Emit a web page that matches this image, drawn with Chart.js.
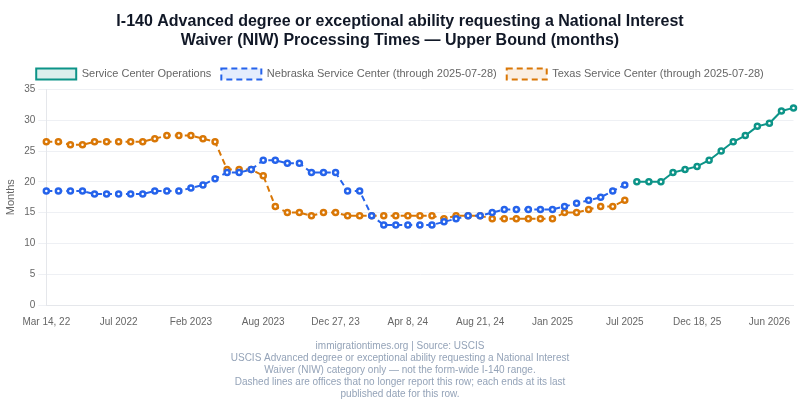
<!DOCTYPE html>
<html>
<head>
<meta charset="utf-8">
<script src="https://cdn.jsdelivr.net/npm/chart.js@4/dist/chart.umd.min.js"></script>
<style>
html,body{margin:0;padding:0;background:#fff;}
#wrap{width:800px;height:400px;position:relative;}
</style>
</head>
<body>
<div id="wrap"><canvas id="c"></canvas></div>
<script>
const categories = [
  "Mar 14, 22","Apr 5, 22","Apr 26, 22","May 17, 22","Jun 7, 22","Jun 28, 22",
  "Jul 2022","Aug 2022","Sep 2022","Oct 2022","Nov 2022","Dec 2022",
  "Feb 2023","Mar 2023","Apr 2023","May 2023","Jun 2023","Jul 2023",
  "Aug 2023","Sep 2023","Oct 2023","Oct 31, 23","Nov 2023","Dec 2023",
  "Dec 27, 23","Jan 2024","Jan 31, 24","Feb 2024","Mar 2024","Mar 25, 24",
  "Apr 8, 24","May 2024","Jun 2024","Jun 28, 24","Jul 2024","Aug 2024",
  "Aug 21, 24","Sep 2024","Oct 2024","Nov 2024","Dec 2024","Dec 20, 24",
  "Jan 2025","Feb 2025","Mar 2025","Apr 2025","May 2025","Jun 2025",
  "Jul 2025","Aug 2025","Sep 2025","Oct 2025","Nov 2025","Dec 2025",
  "Dec 18, 25","Jan 2026","Feb 2026","Mar 2026","Apr 2026","May 2026",
  "Jun 2026","Jul 2026","Aug 2026"
];

const serviceCenterOps = [
  null,null,null,null,null,null,null,null,null,null,
  null,null,null,null,null,null,null,null,null,null,
  null,null,null,null,null,null,null,null,null,null,
  null,null,null,null,null,null,null,null,null,null,
  null,null,null,null,null,null,null,null,null,
  20,20,20,21.5,22,22.5,23.5,25,26.5,27.5,29,29.5,31.5,32
];

const nebraska = [
  18.5,18.5,18.5,18.5,18,18,18,18,18,18.5,
  18.5,18.5,19,19.5,20.5,21.5,21.5,22,23.5,23.5,
  23,23,21.5,21.5,21.5,18.5,18.5,14.5,13,13,
  13,13,13,13.5,14,14.5,14.5,15,15.5,15.5,
  15.5,15.5,15.5,16,16.5,17,17.5,18.5,19.5
];

const texas = [
  26.5,26.5,26,26,26.5,26.5,26.5,26.5,26.5,27,
  27.5,27.5,27.5,27,26.5,22,22,22,21,16,
  15,15,14.5,15,15,14.5,14.5,14.5,14.5,14.5,
  14.5,14.5,14.5,14,14.5,14.5,14.5,14,14,14,
  14,14,14,15,15,15.5,16,16,17
];

const yTicks = [0,5,10,15,20,25,30,35];

const titleLines = [
  "I-140 Advanced degree or exceptional ability requesting a National Interest",
  "Waiver (NIW) Processing Times \u2014 Upper Bound (months)"
];
const footerLines = [
  "immigrationtimes.org | Source: USCIS",
  "USCIS Advanced degree or exceptional ability requesting a National Interest",
  "Waiver (NIW) category only \u2014 not the form-wide I-140 range.",
  "Dashed lines are offices that no longer report this row; each ends at its last",
  "published date for this row."
];

const FONT = "'Liberation Sans', Arial, Helvetica, sans-serif";

const pointStyle = (color) => ({
  pointRadius: 2.5,
  pointBorderWidth: 2.5,
  pointBackgroundColor: '#ffffff',
  pointBorderColor: color
});

new Chart(document.getElementById('c'), {
  type: 'line',
  data: {
    labels: categories,
    datasets: [
      Object.assign({
        label: 'Service Center Operations',
        data: serviceCenterOps,
        borderColor: '#0d9488',
        backgroundColor: 'rgba(13,148,136,0.15)',
        borderWidth: 2,
        tension: 0,
        spanGaps: false
      }, pointStyle('#0d9488')),
      Object.assign({
        label: 'Nebraska Service Center (through 2025-07-28)',
        data: nebraska,
        borderColor: '#2563eb',
        backgroundColor: 'rgba(37,99,235,0.12)',
        borderWidth: 2,
        borderDash: [6,4],
        tension: 0
      }, pointStyle('#2563eb')),
      Object.assign({
        label: 'Texas Service Center (through 2025-07-28)',
        data: texas,
        borderColor: '#d97706',
        backgroundColor: 'rgba(217,119,6,0.12)',
        borderWidth: 2,
        borderDash: [6,4],
        tension: 0
      }, pointStyle('#d97706'))
    ]
  },
  options: {
    responsive: true,
    maintainAspectRatio: false,
    animation: false,
    layout: { padding: { left: 0, right: 0, top: 4, bottom: 0 } },
    font: { family: FONT },
    plugins: {
      title: {
        display: true,
        text: titleLines,
        color: '#111827',
        font: { family: FONT, size: 16, weight: 'bold' },
        padding: { top: 8, bottom: 8 },
        lineHeight: 1.2
      },
      subtitle: {
        display: true,
        position: 'bottom',
        text: footerLines,
        color: '#94a3b8',
        font: { family: FONT, size: 10 },
        padding: { top: 9, bottom: 0 },
        lineHeight: 1.2
      },
      legend: {
        display: true,
        position: 'top',
        labels: {
          boxWidth: 40,
          boxHeight: 11,
          color: '#666666',
          font: { family: FONT, size: 11 },
          padding: 10
        }
      },
      tooltip: { enabled: false }
    },
    scales: {
      x: {
        type: 'category',
        offset: false,
        grid: { display: false },
        border: { display: true, color: '#e5e7eb' },
        afterFit: function(scale) {
          scale.paddingRight = Math.max(scale.paddingRight || 0, 6);
        },
        ticks: {
          autoSkip: false,
          maxRotation: 0,
          minRotation: 0,
          color: '#666666',
          font: { family: FONT, size: 10 },
          callback: function(value, index) {
            return index % 6 === 0 ? categories[index] : '';
          }
        }
      },
      y: {
        min: 0,
        max: 35,
        afterBuildTicks: function(axis) {
          axis.ticks = yTicks.map(v => ({ value: v }));
        },
        grid: { color: '#eef0f4' },
        border: { display: true, color: '#e5e7eb' },
        ticks: {
          color: '#666666',
          font: { family: FONT, size: 10 }
        },
        title: {
          display: true,
          text: 'Months',
          color: '#666666',
          font: { family: FONT, size: 11 }
        }
      }
    }
  }
});
</script>
</body>
</html>
